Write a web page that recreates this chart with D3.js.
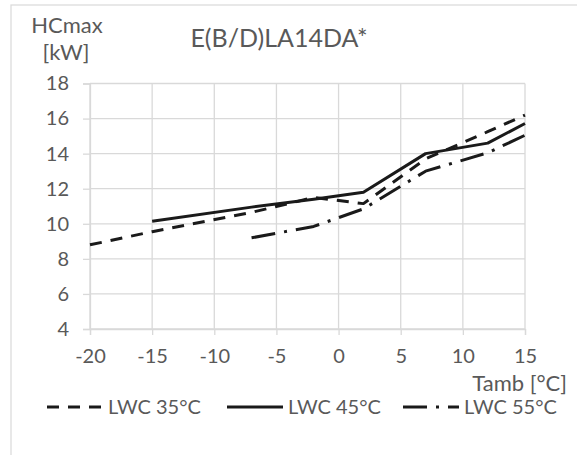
<!DOCTYPE html>
<html><head><meta charset="utf-8">
<script src="https://cdn.jsdelivr.net/npm/d3@7"></script>
<style>body{margin:0;background:#fff}svg{display:block}text{font-family:Lato,"Open Sans",sans-serif;fill:#595959}</style>
</head><body><div id="c"></div>
<script>
const temps35 = [-20, -15, -7, -2, 2, 7, 12, 15];
const lwc35 = [8.8, 9.55, 10.65, 11.5, 11.15, 13.7, 15.25, 16.2];
const temps45 = [-15, -7, -2, 2, 7, 12, 15];
const lwc45 = [10.15, 10.95, 11.4, 11.8, 14.0, 14.6, 15.72];
const temps55 = [-7, -2, 2, 7, 12, 15];
const lwc55 = [9.2, 9.85, 10.85, 13.0, 14.05, 15.05];
const xTicks = [-20, -15, -10, -5, 0, 5, 10, 15];
const yTicks = [4, 6, 8, 10, 12, 14, 16, 18];
const seriesNames = ["LWC 35°C", "LWC 45°C", "LWC 55°C"];
const dashes = ["12,9", null, "24,9,3,9"];

const W = 577, H = 455;
const svg = d3.select("#c").append("svg").attr("width", W).attr("height", H);
svg.append("rect").attr("x", 11).attr("y", 5).attr("width", 600).attr("height", 500)
  .attr("fill", "#fff").attr("stroke", "#d9d9d9").attr("stroke-width", 1.2);

const x = d3.scaleLinear().domain([-20, 15]).range([90, 525]);
const y = d3.scaleLinear().domain([4, 18]).range([329, 83.5]);

// gridlines
svg.append("g").selectAll("line.h").data(yTicks).join("line")
  .attr("x1", x(-20)).attr("x2", x(15)).attr("y1", d => y(d)).attr("y2", d => y(d))
  .attr("stroke", "#d9d9d9").attr("stroke-width", 1.3);
svg.append("g").selectAll("line.v").data(xTicks).join("line")
  .attr("y1", y(4)).attr("y2", y(18)).attr("x1", d => x(d)).attr("x2", d => x(d))
  .attr("stroke", "#d9d9d9").attr("stroke-width", 1.3);

const fmt = d => String(d);
const xAxis = svg.append("g").attr("transform", `translate(0,${y(4)})`)
  .call(d3.axisBottom(x).tickValues(xTicks).tickSize(6).tickPadding(14).tickFormat(fmt));
const yAxis = svg.append("g").attr("transform", `translate(${x(-20)},0)`)
  .call(d3.axisLeft(y).tickValues(yTicks).tickSize(7).tickPadding(14).tickFormat(fmt));
[xAxis, yAxis].forEach(a => {
  a.select(".domain").attr("stroke", "#d9d9d9").attr("stroke-width", 1.3);
  a.selectAll(".tick line").attr("stroke", "#d9d9d9").attr("stroke-width", 1.3);
  a.selectAll(".tick text").style("font-size", "20px").attr("fill", "#595959")
    .style("font-family", "Lato");
});
xAxis.selectAll(".tick text").attr("dy", "0.71em");

const series = [
  temps35.map((t, i) => [t, lwc35[i]]),
  temps45.map((t, i) => [t, lwc45[i]]),
  temps55.map((t, i) => [t, lwc55[i]])
];
const line = d3.line().x(d => x(d[0])).y(d => y(d[1]));
series.forEach((s, i) => {
  svg.append("path").datum(s).attr("d", line).attr("fill", "none")
    .attr("stroke", "#1a1a1a").attr("stroke-width", 3)
    .attr("stroke-dasharray", dashes[i]).attr("stroke-linejoin", "round");
});

// texts
svg.append("text").attr("x", 279).attr("y", 46.5).attr("text-anchor", "middle")
  .style("font-size", "25px").text("E(B/D)LA14DA*");
svg.append("text").attr("x", 67).attr("y", 33).attr("text-anchor", "middle")
  .style("font-size", "22px").text("HCmax");
svg.append("text").attr("x", 66).attr("y", 60).attr("text-anchor", "middle")
  .style("font-size", "22px").text("[kW]");
svg.append("text").attr("x", 567).attr("y", 391).attr("text-anchor", "end")
  .style("font-size", "22px").text("Tamb [°C]");

// legend
const legX = [47, 227, 403];
const lg = svg.append("g");
seriesNames.forEach((n, i) => {
  lg.append("line").attr("x1", legX[i]).attr("x2", legX[i] + 56).attr("y1", 407).attr("y2", 407)
    .attr("stroke", "#1a1a1a").attr("stroke-width", 3).attr("stroke-dasharray", dashes[i]);
  lg.append("text").attr("x", legX[i] + 61).attr("y", 414).style("font-size", "20px").text(n);
});
</script></body></html>
